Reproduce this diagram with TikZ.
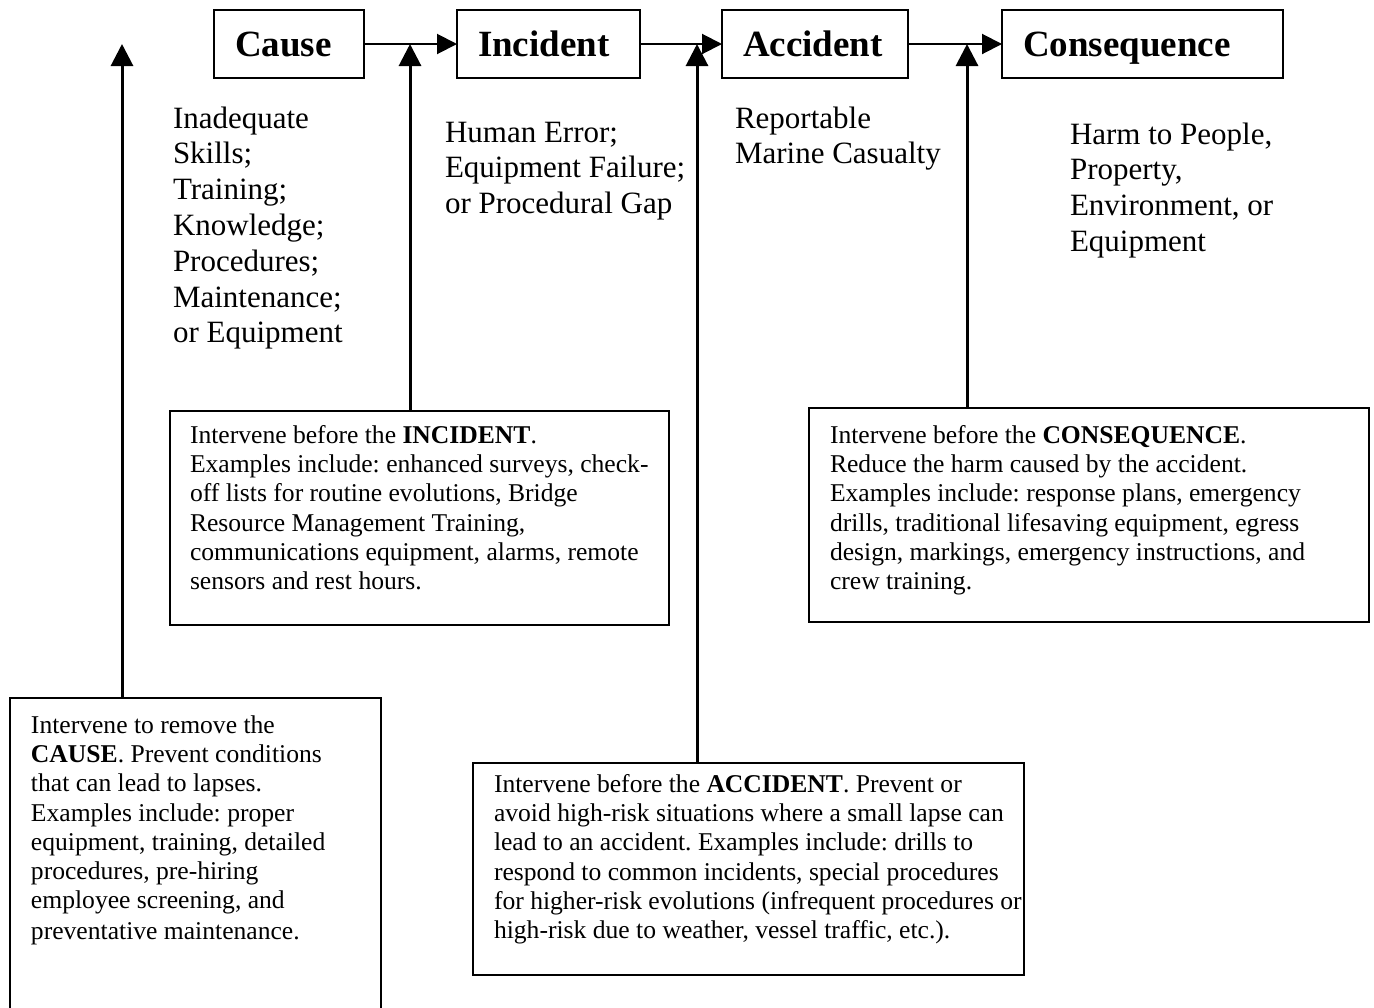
\documentclass[tikz,border=0pt]{standalone}
\usepackage{fontspec}
\setmainfont{Liberation Serif}
\usetikzlibrary{arrows.meta}
\frenchspacing

\begin{document}
\begin{tikzpicture}[x=0.5pt, y=-0.5pt]
        \tikzstyle{every node}=[inner sep=0pt, outer sep=0pt]
        \tikzstyle{stage}=[draw, line width=1pt, anchor=north west, inner xsep=10.5pt, minimum height=34pt, text height=12.5pt, text depth=0pt, align=left, font=\fontsize{18.5}{22}\selectfont\bfseries]
        \tikzstyle{list}=[anchor=north west, align=left, font=\fontsize{15.5}{17.9}\selectfont]
        \tikzstyle{frame}=[draw, line width=1pt, anchor=north west]
        \tikzstyle{note}=[anchor=north west, align=left, font=\fontsize{12.8}{14.6}\selectfont]
        \tikzstyle{flow}=[line width=1pt, -{Triangle[length=10pt, width=10pt]}]
        \tikzstyle{push}=[line width=1.5pt, -{Triangle[length=11pt, width=11pt]}]
        \useasboundingbox (0,0) rectangle (1374,1007);
        % chain of events
        \node[stage, text width=54pt] (cause) at (214,10) {Cause};
        \node[stage, text width=70.5pt] (incident) at (457,10) {Incident};
        \node[stage, text width=72pt] (accident) at (722,10) {Accident};
        \node[stage, text width=119.5pt] (consequence) at (1002,10) {Consequence};
        \draw[flow] (cause) -- (incident);
        \draw[flow] (incident) -- (accident);
        \draw[flow] (accident) -- (consequence);
        % what each stage is
        \node[list] (causelist) at (173,103) {\strut Inadequate\\ Skills;\\ Training;\\ Knowledge;\\ Procedures;\\ Maintenance;\\ or Equipment};
        \node[list] (incidentlist) at (445,117) {\strut Human Error;\\ Equipment Failure;\\ or Procedural Gap};
        \node[list] (accidentlist) at (735,103) {\strut Reportable\\ Marine Casualty};
        \node[list] (consequencelist) at (1070,119) {\strut Harm to People,\\ Property,\\ Environment, or\\ Equipment};
        % where to intervene
        \node[frame, minimum width=185.5pt, minimum height=157pt] (boxC) at (10,698) {};
        \node[frame, minimum width=249.5pt, minimum height=107pt] (boxI) at (170,411) {};
        \node[frame, minimum width=275.5pt, minimum height=106pt] (boxA) at (473,763) {};
        \node[frame, minimum width=280pt, minimum height=107pt] (boxQ) at (809,408) {};
        \node[note] (noteC) at (31,713) {\strut Intervene to remove the\\ \textbf{CAUSE}. Prevent conditions\\ that can lead to lapses.\\ Examples include: proper\\ equipment, training, detailed\\ procedures, pre-hiring\\ employee screening, and\\[1pt] preventative maintenance.};
        \node[note] (noteI) at (190,423) {\strut Intervene before the \textbf{INCIDENT}.\\ Examples include: enhanced surveys, check-\\ off lists for routine evolutions, Bridge\\ Resource Management Training,\\ communications equipment, alarms, remote\\ sensors and rest hours.};
        \node[note] (noteA) at (494,772) {\strut Intervene before the \textbf{ACCIDENT}. Prevent or\\ avoid high-risk situations where a small lapse can\\ lead to an accident. Examples include: drills to\\ respond to common incidents, special procedures\\ for higher-risk evolutions (infrequent procedures or\\ high-risk due to weather, vessel traffic, etc.).};
        \node[note] (noteQ) at (830,423) {\strut Intervene before the \textbf{CONSEQUENCE}.\\ Reduce the harm caused by the accident.\\ Examples include: response plans, emergency\\ drills, traditional lifesaving equipment, egress\\ design, markings, emergency instructions, and\\ crew training.};
        \coordinate (j0) at (122,44);
        \coordinate (j1) at (410,44);
        \coordinate (j2) at (697,44);
        \coordinate (j3) at (967,44);
        \draw[push] (boxC.north -| j0) -- (j0);
        \draw[push] (boxI.north -| j1) -- (j1);
        \draw[push] (boxA.north -| j2) -- (j2);
        \draw[push] (boxQ.north -| j3) -- (j3);
\end{tikzpicture}
\end{document}
